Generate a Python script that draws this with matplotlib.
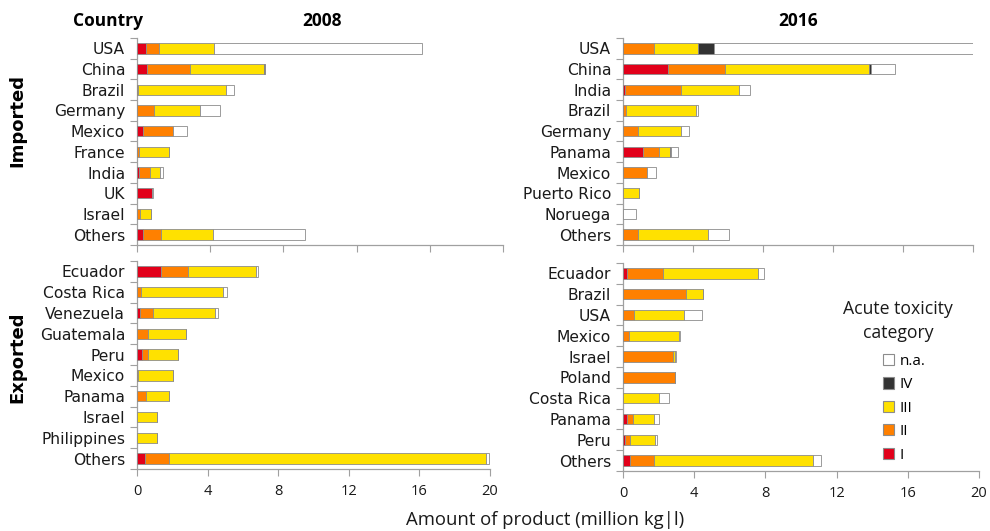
import matplotlib
matplotlib.use("Agg")
import matplotlib.pyplot as plt
from matplotlib.patches import Patch
import numpy as np

plt.rcParams['font.family'] = ['Open Sans', 'DejaVu Sans']

categories_labels = ["I", "II", "III", "IV", "n.a."]
colors = ["#E2001A", "#FF8000", "#FFE100", "#333333", "#FFFFFF"]

# 2008 imported
imp08_countries = ["USA", "China", "Brazil", "Germany", "Mexico", "France", "India", "UK", "Israel", "Others"]
imp08_I   = [0.51, 0.56, 0.00, 0.00, 0.33, 0.00, 0.09, 0.80, 0.00, 0.33]
imp08_II  = [0.69, 2.32, 0.04, 0.91, 1.64, 0.11, 0.62, 0.00, 0.18, 0.98]
imp08_III = [2.99, 4.08, 4.84, 2.51, 0.00, 1.64, 0.57, 0.00, 0.57, 2.84]
imp08_IV  = [0.00, 0.03, 0.00, 0.03, 0.00, 0.02, 0.00, 0.00, 0.00, 0.00]
imp08_na  = [11.38, 0.00, 0.44, 1.07, 0.76, 0.00, 0.12, 0.09, 0.00, 5.03]

# 2016 imported
imp16_countries = ["USA", "China", "India", "Brazil", "Germany", "Panama", "Mexico", "Puerto Rico", "Noruega", "Others"]
imp16_I   = [0.00, 2.59, 0.10, 0.00, 0.00, 1.16, 0.00, 0.00, 0.00, 0.00]
imp16_II  = [1.79, 3.26, 3.20, 0.15, 0.88, 0.88, 1.37, 0.00, 0.00, 0.88]
imp16_III = [2.48, 8.21, 3.35, 4.00, 2.43, 0.63, 0.00, 0.93, 0.00, 3.95]
imp16_IV  = [0.95, 0.09, 0.00, 0.00, 0.03, 0.07, 0.00, 0.00, 0.00, 0.03]
imp16_na  = [14.78, 1.39, 0.63, 0.14, 0.45, 0.42, 0.50, 0.00, 0.76, 1.19]

# 2008 exported
exp08_countries = ["Ecuador", "Costa Rica", "Venezuela", "Guatemala", "Peru", "Mexico", "Panama", "Israel", "Philippines", "Others"]
exp08_I   = [1.38, 0.00, 0.19, 0.00, 0.26, 0.00, 0.00, 0.00, 0.00, 0.45]
exp08_II  = [1.51, 0.21, 0.72, 0.60, 0.36, 0.06, 0.51, 0.00, 0.00, 1.36]
exp08_III = [3.86, 4.69, 3.51, 2.20, 1.69, 1.98, 1.32, 1.15, 1.13, 17.94]
exp08_IV  = [0.00, 0.00, 0.00, 0.00, 0.02, 0.00, 0.00, 0.00, 0.00, 0.02]
exp08_na  = [0.11, 0.19, 0.15, 0.00, 0.00, 0.00, 0.00, 0.00, 0.00, 0.15]

# 2016 exported
exp16_countries = ["Ecuador", "Brazil", "USA", "Mexico", "Israel", "Poland", "Costa Rica", "Panama", "Peru", "Others"]
exp16_I   = [0.24, 0.00, 0.00, 0.00, 0.00, 0.00, 0.00, 0.21, 0.13, 0.37]
exp16_II  = [2.01, 3.52, 0.60, 0.36, 2.83, 2.90, 0.00, 0.37, 0.28, 1.37]
exp16_III = [5.33, 0.99, 2.83, 2.77, 0.11, 0.00, 2.02, 1.18, 1.39, 8.95]
exp16_IV  = [0.00, 0.00, 0.00, 0.00, 0.00, 0.00, 0.00, 0.00, 0.00, 0.00]
exp16_na  = [0.36, 0.00, 1.03, 0.09, 0.06, 0.00, 0.56, 0.26, 0.11, 0.45]

xticks = [0, 4, 8, 12, 16, 20]

W, H = 990, 531
fig = plt.figure(figsize=(W / 100, H / 100), dpi=100)


def box(x0, x1, y0, y1):
    return [x0 / W, 1 - y1 / H, (x1 - x0) / W, (y1 - y0) / H]


panels = [
    (box(137, 503, 38, 245), imp08_countries, [imp08_I, imp08_II, imp08_III, imp08_IV, imp08_na], False),
    (box(623, 973, 38, 245), imp16_countries, [imp16_I, imp16_II, imp16_III, imp16_IV, imp16_na], False),
    (box(137, 490, 261, 469), exp08_countries, [exp08_I, exp08_II, exp08_III, exp08_IV, exp08_na], True),
    (box(623, 979, 263, 471), exp16_countries, [exp16_I, exp16_II, exp16_III, exp16_IV, exp16_na], True),
]

axes = []
for rect, countries, series, show_x in panels:
    ax = fig.add_axes(rect)
    y = np.arange(len(countries))
    left = np.zeros(len(countries))
    for vals, col in zip(series, colors):
        vals = np.array(vals)
        ax.barh(y, vals, left=left, height=0.5, color=col,
                edgecolor="#8c8c8c", linewidth=0.6, zorder=3)
        left = left + vals
    ax.set_xlim(0, 20)
    ax.set_ylim(len(countries) - 0.5, -0.5)
    ax.set_yticks(y)
    ax.set_yticklabels(countries, fontsize=11.2, color="#1a1a1a", family="DejaVu Sans")
    ax.set_yticks(np.arange(-0.5, len(countries), 1.0), minor=True)
    ax.tick_params(axis="y", which="major", length=0, pad=8.5)
    ax.tick_params(axis="y", which="minor", length=5, color="#a0a0a0", width=0.8)
    ax.set_xticks(xticks)
    ax.tick_params(axis="x", which="major", length=5, color="#a0a0a0", width=0.8,
                   labelsize=10.5, pad=6, labelcolor="#1a1a1a")
    if not show_x:
        ax.set_xticklabels([])
    for s in ["top", "right"]:
        ax.spines[s].set_visible(False)
    for s in ["left", "bottom"]:
        ax.spines[s].set_color("#a0a0a0")
        ax.spines[s].set_linewidth(0.9)
    axes.append(ax)

fig.text(108 / W, 1 - 21 / H, "Country", fontsize=12.5, fontweight="bold", ha="center", va="center")
fig.text(322 / W, 1 - 21 / H, "2008", fontsize=12.5, fontweight="bold", ha="center", va="center")
fig.text(798 / W, 1 - 21 / H, "2016", fontsize=12.5, fontweight="bold", ha="center", va="center")
fig.text(17 / W, 1 - 121 / H, "Imported", fontsize=13, fontweight="bold", rotation=90,
         ha="center", va="center", family="DejaVu Sans")
fig.text(17 / W, 1 - 357 / H, "Exported", fontsize=13, fontweight="bold", rotation=90,
         ha="center", va="center", family="DejaVu Sans")
fig.text(545 / W, 1 - 520 / H, "Amount of product (million kg|l)", fontsize=13.3, ha="center", va="center", color="#1a1a1a")

fig.text(898 / W, 1 - 321 / H, "Acute toxicity\ncategory", fontsize=12.7, ha="center", va="center",
         linespacing=1.45, color="#1a1a1a")
handles = [Patch(facecolor=c, edgecolor="#8c8c8c", linewidth=0.8) for c in colors][::-1]
labels = categories_labels[::-1]
fig.legend(handles, labels, loc="upper left", bbox_to_anchor=(883 / W, 1 - 354 / H),
           frameon=False, fontsize=11, handlelength=0.75, handleheight=0.75,
           handletextpad=0.35, labelspacing=0.55, borderpad=0, borderaxespad=0)

fig.savefig("out.png", dpi=100)
